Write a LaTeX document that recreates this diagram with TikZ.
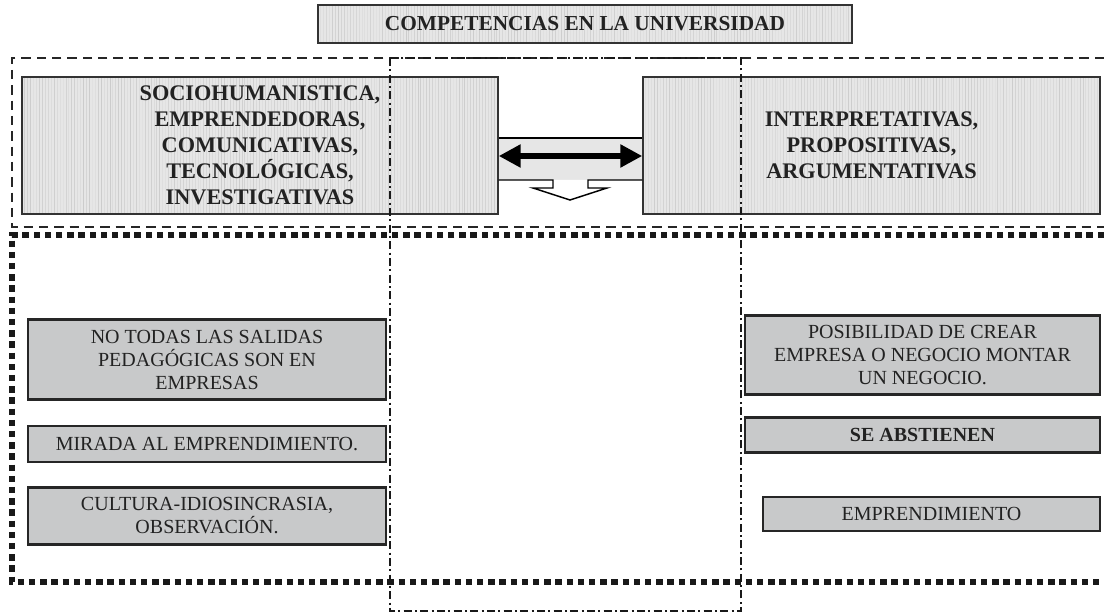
\documentclass[tikz,border=0pt]{standalone}
\usepackage{fontspec}
\setmainfont{Liberation Serif}
\usetikzlibrary{arrows.meta}
\definecolor{topgray}{HTML}{E6E6E6}
\definecolor{lowgray}{HTML}{C8C9CA}
\definecolor{bandgray}{HTML}{E6E6E6}
\definecolor{ink}{HTML}{222222}
\begin{document}
\begin{tikzpicture}[x=0.75pt,y=-0.75pt,
  stripes/.style={path picture={
      \foreach \k in {0,...,185}{
        \pgfmathsetmacro{\op}{0.02+0.09*rnd}
        \draw[line width=0.7pt, black, opacity=\op]
          ([xshift=\k*2.2pt]path picture bounding box.south west) --
          ([xshift=\k*2.2pt]path picture bounding box.north west);}}},
  topbox/.style={draw=black!80, line width=1.1pt, fill=topgray, stripes,
      inner sep=0pt, align=center, text=ink,
      font=\fontsize{16.7}{19.5}\selectfont\bfseries},
  lowbox/.style={draw=black!85, line width=1.6pt, fill=lowgray,
      inner sep=0pt, align=center, text=ink,
      font=\fontsize{15}{17.25}\selectfont},
  dashframe/.style={draw=black!85, line width=1.4pt, dash pattern=on 7pt off 4.5pt},
  dotframe/.style={draw=black!90, line width=3.8pt, dash pattern=on 4.8pt off 3.6pt},
  dashdot/.style={draw=black!90, line width=1.4pt, dash pattern=on 6pt off 2.5pt on 1.5pt off 2.5pt},
  dblarrow/.style={line width=5pt, {Triangle[length=16.5pt,width=16.5pt]}-{Triangle[length=16.5pt,width=16.5pt]}}
]
\pgfmathsetseed{7}
\useasboundingbox (0,0) rectangle (1104,616);
\fill[white] (0,0) rectangle (1104,616);

% frames
\coordinate (fa1) at (1104,58);
\coordinate (fa2) at (12,58);
\coordinate (fa3) at (12,227);
\coordinate (fa4) at (1104,227);
\draw[dashframe] (fa1) -- (fa2) -- (fa3) -- (fa4);
\coordinate (fb1) at (1104,235);
\coordinate (fb2) at (12,235);
\coordinate (fb3) at (12,582);
\coordinate (fb4) at (1104,582);
\draw[dotframe] (fb1) -- (fb2) -- (fb3) -- (fb4);

% title
\node[topbox, minimum width=400.5pt, minimum height=28.5pt,
      font=\fontsize{16}{19}\selectfont\bfseries] (title) at (585,24)
  {COMPETENCIAS EN LA UNIVERSIDAD};

% top boxes
\node[topbox, minimum width=357pt, minimum height=102.75pt] (L) at (260,145.5)
  {SOCIOHUMANISTICA,\\EMPRENDEDORAS,\\COMUNICATIVAS,\\TECNOLÓGICAS,\\INVESTIGATIVAS};
\node[topbox, minimum width=342.75pt, minimum height=102.75pt] (R) at (871.5,145.5)
  {INTERPRETATIVAS,\\PROPOSITIVAS,\\ARGUMENTATIVAS};

% connecting band with down arrow
\coordinate (b1) at (L.east |- 0,138);
\coordinate (b2) at (R.west |- 0,138);
\coordinate (b3) at (R.west |- 0,180);
\coordinate (b4) at (L.east |- 0,180);
\fill[bandgray] (b1) -- (b2) -- (b3) -- (b4) -- cycle;
\draw[black, line width=1.1pt] (b1) -- (b2);
\coordinate (d1) at (553,180);
\coordinate (d2) at (553,188);
\coordinate (d3) at (533,188);
\coordinate (tip) at (570,200);
\coordinate (d5) at (607,188);
\coordinate (d6) at (588,188);
\coordinate (d7) at (588,180);
\fill[white] (d1) -- (d2) -- (d3) -- (tip) -- (d5) -- (d6) -- (d7) -- cycle;
\draw[black, line width=1.1pt, line join=miter] (b4) -- (d1) -- (d2) -- (d3) -- (tip) -- (d5) -- (d6) -- (d7) -- (b3);
\draw[dblarrow] (L.east |- 0,156) -- (R.west |- 0,156);

% lower boxes
\node[lowbox, minimum width=268.5pt, minimum height=60pt] (n1) at (207,359.5)
  {NO TODAS LAS SALIDAS\\PEDAGÓGICAS SON EN\\EMPRESAS};
\node[lowbox, minimum width=268.5pt, minimum height=27pt] (n2) at (207,444)
  {MIRADA AL EMPRENDIMIENTO.};
\node[lowbox, minimum width=268.5pt, minimum height=42.75pt] (n3) at (207,516)
  {CULTURA-IDIOSINCRASIA,\\OBSERVACIÓN.};
\node[lowbox, minimum width=266.25pt, minimum height=59.25pt] (p1) at (922.5,355)
  {POSIBILIDAD DE CREAR\\EMPRESA O NEGOCIO MONTAR\\UN NEGOCIO.};
\node[lowbox, minimum width=266.25pt, minimum height=26.25pt, font=\fontsize{15}{17.25}\selectfont\bfseries] (p2) at (922.5,435)
  {SE ABSTIENEN};
\node[lowbox, minimum width=252.75pt, minimum height=25.5pt] (p3) at (931.5,514)
  {EMPRENDIMIENTO};

% middle dash-dot column
\coordinate (m1) at (390,58);
\coordinate (m2) at (741,611);
\draw[dashdot] (m1) rectangle (m2);
\end{tikzpicture}
\end{document}
